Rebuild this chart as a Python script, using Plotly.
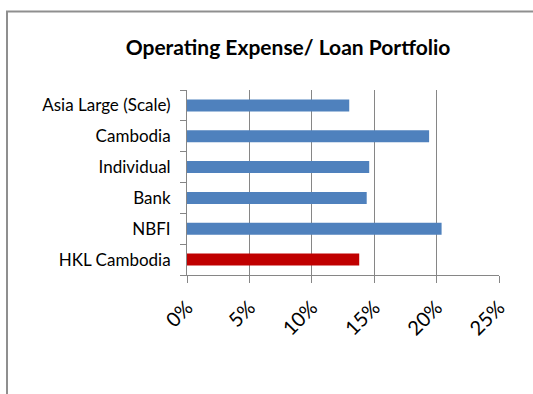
import plotly.graph_objects as go

# Operating expense as a share of the loan portfolio, by peer group
categories = ["Asia Large (Scale)", "Cambodia", "Individual", "Bank", "NBFI", "HKL Cambodia"]
ratios = [0.130, 0.194, 0.146, 0.144, 0.204, 0.138]
bar_colors = ["#4F81BD", "#4F81BD", "#4F81BD", "#4F81BD", "#4F81BD", "#C00000"]

x_ticks = [0, 0.05, 0.10, 0.15, 0.20, 0.25]
x_tick_labels = ["0%", "5%", "10%", "15%", "20%", "25%"]

W, H = 533, 394
L, R, T, B = 187, 34, 90, 119
grey = "#868686"

fig = go.Figure(
    go.Bar(
        x=ratios,
        y=categories,
        orientation="h",
        marker=dict(color=bar_colors, line=dict(width=0)),
        hoverinfo="x+y",
    )
)

fig.update_layout(
    width=W,
    height=H,
    margin=dict(l=L, r=R, t=T, b=B, pad=0),
    paper_bgcolor="white",
    plot_bgcolor="white",
    showlegend=False,
    bargap=0.61,
    font=dict(family="Lato, Carlito, sans-serif", color="#000000"),
    title=dict(
        text="<b>Operating Expense/ Loan Portfolio</b>",
        font=dict(family="Lato, sans-serif", size=21, color="#000000"),
        x=288 / W,
        xanchor="center",
        y=1 - 48 / H,
        yanchor="middle",
    ),
)

fig.update_xaxes(
    range=[0, 0.25],
    tickvals=x_ticks,
    ticktext=x_tick_labels,
    tickangle=-45,
    tickfont=dict(size=20, color="#000000"),
    ticklabelstandoff=5,
    ticks="outside",
    ticklen=7,
    tickcolor=grey,
    tickwidth=1,
    showline=True,
    linecolor=grey,
    linewidth=1,
    showgrid=True,
    gridcolor=grey,
    gridwidth=1,
    zeroline=False,
    fixedrange=True,
)

fig.update_yaxes(
    type="category",
    categoryorder="array",
    categoryarray=categories[::-1],
    tickson="boundaries",
    ticks="outside",
    ticklen=6,
    tickcolor=grey,
    tickwidth=1,
    tickfont=dict(size=17, color="#000000"),
    ticklabelstandoff=12,
    showline=True,
    linecolor=grey,
    linewidth=1,
    mirror=False,
    showgrid=False,
    zeroline=False,
    fixedrange=True,
)

# Chart-area frame, extending past the right and bottom edges of the page
pw = W - L - R
ph = H - T - B
fig.add_shape(
    type="rect",
    xref="paper",
    yref="paper",
    x0=(7 - L) / pw,
    x1=(W + 20 - L) / pw,
    y0=-(H + 20 - (H - B)) / ph,
    y1=1 + (T - 11.5) / ph,
    line=dict(color="#8F8F8F", width=2),
    fillcolor="rgba(0,0,0,0)",
    layer="below",
)

fig.write_html("out.html")
